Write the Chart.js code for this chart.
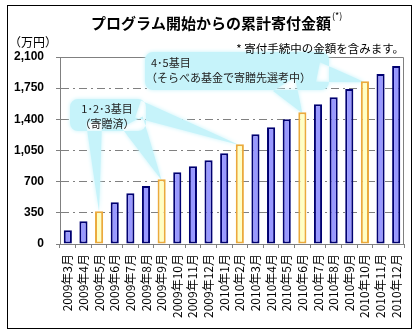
<!DOCTYPE html>
<html lang="ja">
<head>
<meta charset="utf-8">
<title>累計寄付金額</title>
<script src="https://cdn.jsdelivr.net/npm/chart.js@4.4.1/dist/chart.umd.min.js"></script>
<style>
  html, body { margin: 0; padding: 0; background: #fff; }
  #wrap { width: 420px; height: 335px; }
</style>
</head>
<body>
<div id="wrap"><canvas id="kifu" width="420" height="335"></canvas></div>
<script>
const months = [
    "2009年3月", "2009年4月", "2009年5月", "2009年6月", "2009年7月", "2009年8月",
    "2009年9月", "2009年10月", "2009年11月", "2009年12月", "2010年1月", "2010年2月",
    "2010年3月", "2010年4月", "2010年5月", "2010年6月", "2010年7月", "2010年8月",
    "2010年9月", "2010年10月", "2010年11月", "2010年12月"
];
// 累計寄付金額（万円）
const totals = [
    154, 255, 367, 468, 569, 651, 726, 805, 873, 940, 1018,
    1120, 1232, 1310, 1400, 1479, 1569, 1647, 1741, 1827, 1909, 1999
];
// 寄贈した月（黄色い棒）
const donationMonths = ["2009年5月", "2009年9月", "2010年2月", "2010年6月", "2010年10月"];
const yTicks = [0, 350, 700, 1050, 1400, 1750, 2100];

const JP = '"Noto Sans CJK JP", sans-serif';

// 吹き出し: box = [x, y, w, h], arrows = [月, 根元x, 根元y, 根元の半幅]
const callouts = [
    {
        lines: ["1･2･3基目", "（寄贈済）"],
        box: [70, 99, 76, 32],
        align: "center",
        arrows: [["2009年5月", 94, 122, 8], ["2009年9月", 132, 122, 12], ["2010年2月", 138, 109, 9]]
    },
    {
        lines: ["4･5基目", "（そらべあ基金で寄贈先選考中）"],
        box: [145, 52, 184, 38],
        align: "left",
        arrows: [["2010年6月", 284, 84, 13], ["2010年10月", 318, 72, 10]]
    }
];

function roundRect(ctx, x, y, w, h, r) {
    ctx.moveTo(x + r, y);
    ctx.arcTo(x + w, y, x + w, y + h, r);
    ctx.arcTo(x + w, y + h, x, y + h, r);
    ctx.arcTo(x, y + h, x, y, r);
    ctx.arcTo(x, y, x + w, y, r);
    ctx.closePath();
}

const decorations = {
    id: "decorations",
    beforeDraw(chart) {
        const ctx = chart.ctx;
        ctx.save();
        ctx.fillStyle = "#fff";
        ctx.fillRect(0, 0, chart.width, chart.height);
        ctx.strokeStyle = "#000";
        ctx.lineWidth = 1;
        ctx.strokeRect(7.5, 5.5, 404, 323);
        ctx.restore();
    },
    beforeDatasetsDraw(chart) {
        const ctx = chart.ctx;
        const a = chart.chartArea;
        const bars = chart.getDatasetMeta(0).data;
        ctx.save();
        // 枠の上と右
        ctx.strokeStyle = "#808080";
        ctx.lineWidth = 1;
        ctx.beginPath();
        ctx.moveTo(a.left, a.top + 0.5);
        ctx.lineTo(a.right - 0.5, a.top + 0.5);
        ctx.lineTo(a.right - 0.5, a.bottom);
        ctx.stroke();

        // 吹き出し
        callouts.forEach(c => {
            const [bx, by, bw, bh] = c.box;
            ctx.fillStyle = "rgb(198,243,250)";
            ctx.shadowColor = "rgb(198,243,250)";
            ctx.shadowBlur = 4;
            ctx.beginPath();
            roundRect(ctx, bx, by, bw, bh, 8);
            c.arrows.forEach(([m, ax, ay, hw]) => {
                const bar = bars[months.indexOf(m)];
                const dx = bar.x - ax, dy = bar.y - ay;
                const len = Math.hypot(dx, dy);
                const px = -dy / len * hw, py = dx / len * hw;
                ctx.moveTo(ax + px, ay + py);
                ctx.lineTo(bar.x, bar.y + 1);
                ctx.lineTo(ax - px, ay - py);
                ctx.closePath();
            });
            ctx.fill();
            ctx.shadowBlur = 0;

            ctx.fillStyle = "#222";
            ctx.font = "11px " + JP;
            ctx.textBaseline = "middle";
            if (c.align === "center") {
                ctx.textAlign = "center";
                ctx.fillText(c.lines[0], bx + bw / 2 - 1, by + 9.5);
                ctx.fillText(c.lines[1], bx + bw / 2 - 1, by + 24.5);
            } else {
                ctx.textAlign = "left";
                ctx.fillText(c.lines[0], bx + 6, by + 10.5);
                ctx.fillText(c.lines[1], bx + 1, by + 25.5);
            }
        });
        ctx.restore();
    },
    afterDraw(chart) {
        const ctx = chart.ctx;
        ctx.save();
        ctx.fillStyle = "#000";
        ctx.textBaseline = "middle";

        const title = "プログラム開始からの累計寄付金額";
        ctx.font = "bold 15px " + JP;
        ctx.textAlign = "center";
        ctx.fillText(title, 211, 23);
        const tw = ctx.measureText(title).width;
        ctx.font = "9px " + JP;
        ctx.textAlign = "left";
        ctx.fillText("(*)", 211 + tw / 2 + 1, 16);

        ctx.font = "12px " + JP;
        ctx.fillText("（万円）", 9, 42);

        ctx.font = "11.5px " + JP;
        ctx.textAlign = "right";
        ctx.fillText("* 寄付手続中の金額を含みます。", 404, 49);
        ctx.restore();
    }
};

new Chart(document.getElementById("kifu"), {
    type: "bar",
    data: {
        labels: months,
        datasets: [{
            data: totals,
            backgroundColor: months.map(m => donationMonths.includes(m) ? "#FFFFC4" : "#9999FF"),
            borderColor: months.map(m => donationMonths.includes(m) ? "#EBAA3C" : "#000070"),
            borderWidth: 2,
            borderSkipped: false,
            barPercentage: 0.52,
            categoryPercentage: 1
        }]
    },
    options: {
        responsive: false,
        animation: false,
        events: [],
        layout: {
            padding: { top: 57, left: 0, right: 16, bottom: 0 }
        },
        plugins: {
            legend: { display: false },
            tooltip: { enabled: false }
        },
        scales: {
            x: {
                afterFit(scale) { scale.height = 91; },
                grid: {
                    drawOnChartArea: false,
                    drawTicks: true,
                    tickLength: 4,
                    color: "#808080"
                },
                border: { color: "#808080" },
                ticks: {
                    minRotation: 90,
                    maxRotation: 90,
                    autoSkip: false,
                    padding: 6,
                    color: "#000",
                    font: { family: JP, size: 12 }
                }
            },
            y: {
                min: yTicks[0],
                max: yTicks[yTicks.length - 1],
                afterFit(scale) { scale.width = 60; },
                afterBuildTicks(scale) { scale.ticks = yTicks.map(v => ({ value: v })); },
                grid: {
                    color: c => (c.tick && (c.tick.value === yTicks[0] || c.tick.value === yTicks[yTicks.length - 1])) ? "rgba(0,0,0,0)" : "#808080",
                    tickColor: "#808080",
                    tickLength: 4,
                    tickBorderDash: [],
                    lineWidth: 1
                },
                border: { color: "#808080", dash: [8, 4, 2, 4] },
                ticks: {
                    padding: 12,
                    color: "#000",
                    font: { family: '"Liberation Sans", Arial, sans-serif', size: 12, weight: "bold" },
                    callback: v => v.toLocaleString("en-US")
                }
            }
        }
    },
    plugins: [decorations]
});
</script>
</body>
</html>
